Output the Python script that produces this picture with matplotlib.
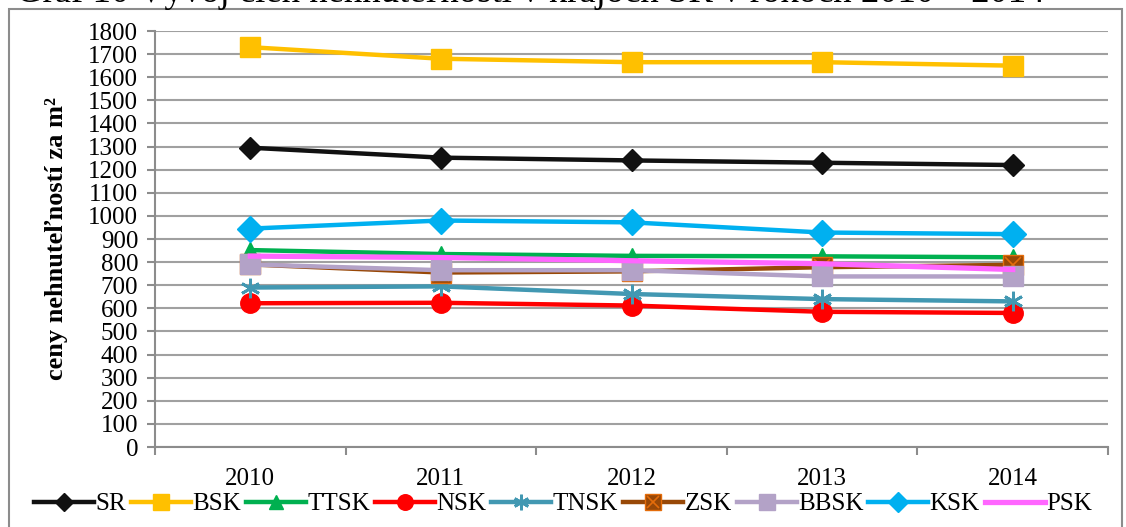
import matplotlib
matplotlib.use("Agg")
import matplotlib.pyplot as plt
from matplotlib.patches import Rectangle
from matplotlib.legend_handler import HandlerTuple

years = ["2010", "2011", "2012", "2013", "2014"]
SR = [1295, 1252, 1240, 1230, 1220]
BSK = [1730, 1680, 1665, 1665, 1650]
TTSK = [852, 835, 827, 825, 821]
NSK = [622, 624, 612, 585, 580]
TNSK = [690, 695, 662, 640, 630]
ZSK = [790, 755, 760, 778, 788]
BBSK = [790, 765, 765, 738, 738]
KSK = [945, 980, 972, 928, 921]
PSK = [826, 820, 806, 793, 768]
yticks = list(range(0, 1801, 100))

plt.rcParams['font.family'] = ['Liberation Serif', 'DejaVu Serif']

fig = plt.figure(figsize=(11.26, 5.27), dpi=100)
W, H = 1126, 527
ax = fig.add_axes([155 / W, 1 - 447 / H, (1108 - 155) / W, (447 - 31) / H])

x = list(range(len(years)))
lw = 3.2
h_sr, = ax.plot(x, SR, color='#111111', lw=lw, marker='D', ms=11, label='SR', zorder=3)
h_bsk, = ax.plot(x, BSK, color='#FFC000', lw=lw, marker='s', ms=14, label='BSK', zorder=3)
h_tt, = ax.plot(x, TTSK, color='#00B050', lw=lw, marker='^', ms=12, label='TTSK', zorder=3)
h_nsk, = ax.plot(x, NSK, color='#FF0000', lw=lw, marker='o', ms=14, label='NSK', zorder=3)
h_tn, = ax.plot(x, TNSK, color='#4298B2', lw=lw, marker=(6, 2, 0), ms=14, mew=2,
                label='TNSK', zorder=3)
h_zsk, = ax.plot(x, ZSK, color='#984807', lw=lw, marker='s', ms=14, mec='#E46C0A',
                 mew=1, label='ZSK', zorder=3)
h_zskx, = ax.plot(x, ZSK, color='none', lw=0, marker='x', ms=11, mec='#E46C0A', mew=1.2,
                  zorder=3)
h_bb, = ax.plot(x, BBSK, color='#B3A2C7', lw=lw, marker='s', ms=14, label='BBSK', zorder=3)
h_ksk, = ax.plot(x, KSK, color='#00B0F0', lw=lw, marker='D', ms=13, label='KSK', zorder=3)
h_psk, = ax.plot(x, PSK, color='#FF66FF', lw=lw + 0.6, label='PSK', zorder=3)

ax.set_xlim(-0.5, len(years) - 0.5)
ax.set_ylim(0, 1800)
ax.set_yticks(yticks)
ax.set_yticklabels([str(v) for v in yticks], fontsize=18)
ax.set_xticks([i - 0.5 for i in range(len(years) + 1)])
ax.set_xticklabels([])
ax.set_xticks(x, minor=True)
ax.set_xticklabels(years, minor=True, fontsize=18)
ax.tick_params(axis='x', which='minor', length=0, pad=15)
ax.tick_params(axis='x', which='major', length=6, width=1.5, color='#8C8C8C', direction='out')
ax.tick_params(axis='y', length=6, width=1.5, color='#8C8C8C', direction='out', pad=6)
ax.yaxis.grid(True, color='#A0A0A0', lw=1.5)
ax.set_axisbelow(True)
for s in ['top', 'right']:
    ax.spines[s].set_visible(False)
for s in ['left', 'bottom']:
    ax.spines[s].set_color('#8C8C8C')
    ax.spines[s].set_linewidth(1.5)

fig.text(57 / W, 1 - 238 / H, 'ceny nehnuteľností za m²', rotation=90, fontsize=19,
         fontweight='bold', ha='center', va='center')

fig.text(16 / W, 1 - 1.5 / H, 'Graf 10 Vývoj cien nehnuteľností v krajoch SR v rokoch 2010 – 2014',
         fontsize=26.5, ha='left', va='baseline')

fig.patches.append(Rectangle((9 / W, -0.05), (1122 - 9) / W, 1 - 9 / H + 0.05,
                             transform=fig.transFigure, fill=False, ec='#8C8C8C', lw=1.5))

handles = [h_sr, h_bsk, h_tt, h_nsk, h_tn, (h_zsk, h_zskx), h_bb, h_ksk, h_psk]
labels = ['SR', 'BSK', 'TTSK', 'NSK', 'TNSK', 'ZSK', 'BBSK', 'KSK', 'PSK']
fig.legend(handles, labels, loc='center', bbox_to_anchor=(0.5, 1 - 504 / H), ncol=9,
           frameon=False, fontsize=18, handlelength=2.4, handletextpad=0.05,
           columnspacing=0.2, markerscale=0.8,
           handler_map={tuple: HandlerTuple(ndivide=1)})

fig.savefig('out.png', dpi=100)
